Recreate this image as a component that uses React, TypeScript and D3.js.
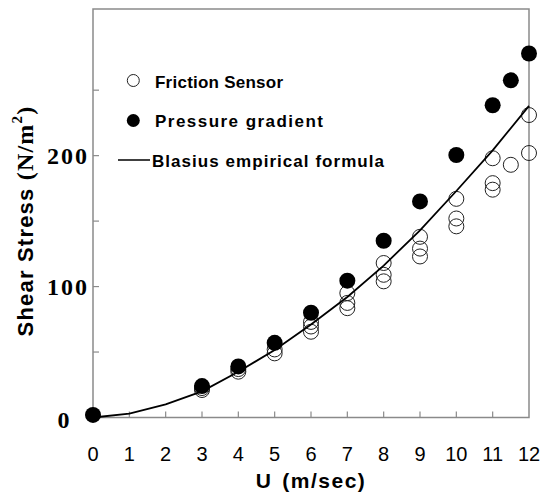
import React from "react";
import * as d3 from "d3";

const frictionU = [3, 3, 4, 4, 5, 5, 6, 6, 6, 7, 7, 7, 8, 8, 8, 9, 9, 9, 10, 10, 10, 11, 11, 11, 11.5, 12, 12];
const frictionTau = [21, 22.5, 35, 37, 49, 52, 65.5, 69.5, 73, 83.5, 87.5, 95, 104, 109, 118, 123, 129, 138, 146, 152, 167, 174, 179, 198, 193, 202, 231];

const pressureU = [0, 3, 4, 5, 6, 7, 8, 9, 10, 11, 11.5, 12];
const pressureTau = [2, 24, 39, 57, 80, 104.5, 135, 165, 200.5, 238.5, 257.5, 278];

const blasiusU = [0, 1, 2, 3, 4, 5, 6, 7, 8, 9, 10, 11, 12];
const blasiusTau = [0, 3, 10, 20, 35, 51.5, 71, 92, 116, 143, 173, 204, 238];

const xTicks = [0, 1, 2, 3, 4, 5, 6, 7, 8, 9, 10, 11, 12];
const yMinorTicks = [50, 100, 150, 200, 250];
const yLabels = [100, 200];

const legendItems = ["Friction Sensor", "Pressure gradient", "Blasius empirical formula"];

export default function App() {
  const W = 541, H = 492;
  const left = 93, right = 529, top = 9, bottom = 417.5;
  const x = d3.scaleLinear().domain([0, 12]).range([left, right]);
  const y = d3.scaleLinear().domain([0, 312]).range([bottom, top]);
  const axisColor = "#8a8a8a";
  const line = d3
    .line<number>()
    .x((_, i) => x(blasiusU[i]))
    .y((d) => y(d));
  const sans = "'Liberation Sans', Arial, sans-serif";
  const serif = "'Liberation Serif', 'Times New Roman', serif";

  return (
    <svg width={W} height={H} style={{ position: "absolute", left: 0, top: 0, background: "#fff" }}>
      <rect x={0} y={0} width={W} height={H} fill="#fff" />
      {/* frame */}
      <rect x={left} y={top} width={right - left} height={bottom - top} fill="none" stroke={axisColor} strokeWidth={1.5} />
      {/* x ticks */}
      {xTicks.slice(1, -1).map((t) => (
        <line key={"xt" + t} x1={x(t)} x2={x(t)} y1={bottom} y2={bottom - 6} stroke={axisColor} strokeWidth={1.2} />
      ))}
      {/* y ticks */}
      {yMinorTicks.map((t) => (
        <line key={"yt" + t} x1={left} x2={left + 6} y1={y(t)} y2={y(t)} stroke={axisColor} strokeWidth={1.2} />
      ))}
      {/* x tick labels */}
      {xTicks.map((t) => (
        <text key={"xl" + t} x={x(t)} y={461} textAnchor="middle" fontFamily={sans} fontSize={20} fill="#000">
          {t}
        </text>
      ))}
      {/* y tick labels */}
      {yLabels.map((t) => (
        <text key={"yl" + t} x={89} y={y(t) + 8} textAnchor="end" fontFamily={serif} fontWeight="bold" fontSize={24} letterSpacing={2} fill="#000">
          {t}
        </text>
      ))}
      <text x={63.5} y={428} textAnchor="middle" fontFamily={serif} fontWeight="bold" fontSize={24} fill="#000">
        0
      </text>
      {/* axis titles */}
      <text x={311} y={488} textAnchor="middle" fontFamily={sans} fontWeight="bold" fontSize={21} letterSpacing={1.5} fill="#000">
        U
        <tspan dx={10}>(m/sec)</tspan>
      </text>
      <text
        transform={`translate(33, 221) rotate(-90)`}
        textAnchor="middle"
        fontFamily={sans}
        fontWeight="bold"
        fontSize={22}
        letterSpacing={1.2}
        fill="#000"
      >
        Shear Stress{" "}
        <tspan fontFamily={serif} fontSize={24}>(N/m</tspan>
        <tspan fontFamily={serif} fontSize={15} dy={-11}>2</tspan>
        <tspan fontFamily={serif} fontSize={24} dy={11}>)</tspan>
      </text>
      {/* friction sensor open circles */}
      {frictionU.map((u, i) => (
        <circle key={"f" + i} cx={x(u)} cy={y(frictionTau[i])} r={7.5} fill="none" stroke="#222" strokeWidth={1} />
      ))}
      {/* pressure gradient filled */}
      {pressureU.map((u, i) => (
        <circle key={"p" + i} cx={x(u)} cy={y(pressureTau[i])} r={8} fill="#000" />
      ))}
      {/* blasius line */}
      <path d={line(blasiusTau) || ""} fill="none" stroke="#000" strokeWidth={1.8} />
      {/* legend */}
      <circle cx={133.3} cy={80.5} r={6} fill="none" stroke="#222" strokeWidth={1} />
      <circle cx={133.3} cy={120.5} r={6.5} fill="#000" />
      <line x1={118} x2={150} y1={160} y2={160} stroke="#000" strokeWidth={1.5} />
      <text x={155} y={87.5} fontFamily={sans} fontWeight="bold" fontSize={17} textLength={128} lengthAdjust="spacing" fill="#000">
        {legendItems[0]}
      </text>
      <text x={155} y={127} fontFamily={sans} fontWeight="bold" fontSize={17} textLength={168} lengthAdjust="spacing" fill="#000">
        {legendItems[1]}
      </text>
      <text x={152} y={166.5} fontFamily={sans} fontWeight="bold" fontSize={17} textLength={232} lengthAdjust="spacing" fill="#000">
        {legendItems[2]}
      </text>
    </svg>
  );
}
